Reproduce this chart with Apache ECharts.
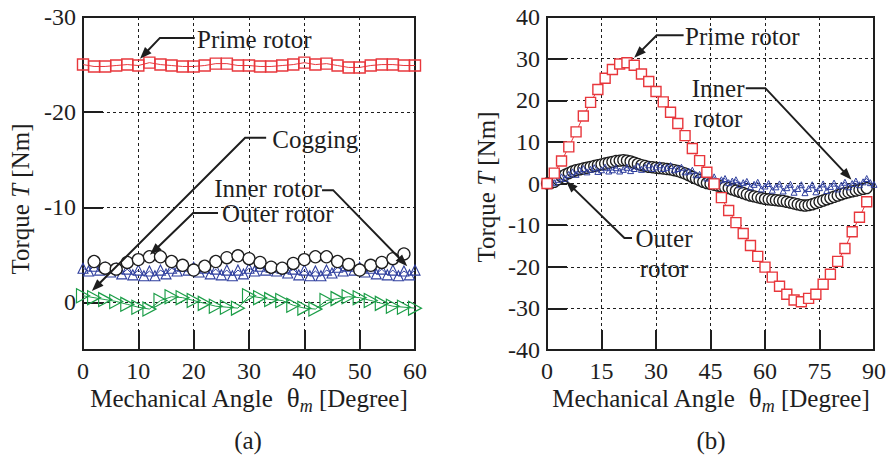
<!DOCTYPE html>
<html>
<head>
<meta charset="utf-8">
<script src="https://cdn.jsdelivr.net/npm/echarts@6/dist/echarts.min.js"></script>
<style>
  html, body { margin: 0; padding: 0; background: #fff; }
  #chart { width: 889px; height: 456px; }
</style>
</head>
<body>
<div id="chart"></div>
<script>
// Sample angles (degrees)
function range(start, stop, step) {
  const out = [];
  for (let v = start; v <= stop + 1e-9; v += step) out.push(v);
  return out;
}

// ---------- (a) constant-speed operation, 0–60 deg ----------
const angleA = range(0, 60, 2);
const primeA = [-25.0, -24.8, -24.8, -24.9, -25.0, -24.9, -25.2, -25.0, -24.9, -24.8, -24.8,
                -24.9, -25.1, -25.1, -24.9, -24.9, -24.8, -24.8, -24.9, -25.0, -25.2,
                -25.0, -25.1, -24.9, -24.7, -24.7, -24.9, -25.0, -25.0, -24.9, -24.9];
const coggingA = [-0.7, -0.5, -0.3, -0.1, 0.2, 0.5, 0.7, -0.2, -0.6, -0.5, -0.2,
                  0.1, 0.4, 0.5, 0.6, -0.7, -0.5, -0.3, -0.2, 0.3, 0.6,
                  0.7, -0.2, -0.4, -0.6, -0.5, -0.2, 0.1, 0.4, 0.5, 0.6];
const angleOuterA = range(2, 58, 2);
const outerA = [-4.3, -3.6, -3.5, -4.2, -4.5, -4.8, -4.8, -4.3, -3.9, -3.4,
                -3.8, -4.3, -4.7, -4.9, -4.6, -4.2, -3.7, -3.6, -4.1, -4.5,
                -4.8, -4.8, -4.3, -4.0, -3.4, -3.9, -4.2, -4.6, -5.1];
const angleInnerA = range(0, 60, 1);
const innerA = [-3.6, -3.3, -3.8, -3.4, -3.7, -3.2, -3.6, -3.0, -3.5, -2.9,
                -3.4, -2.8, -3.3, -2.8, -3.4, -3.0, -3.6, -3.3, -3.8, -3.4,
                -3.7, -3.2, -3.6, -3.0, -3.5, -2.9, -3.4, -2.8, -3.4, -3.0,
                -3.6, -3.3, -3.8, -3.4, -3.7, -3.3, -3.6, -3.1, -3.5, -2.9,
                -3.4, -2.8, -3.3, -2.8, -3.4, -3.1, -3.7, -3.3, -3.8, -3.4,
                -3.7, -3.2, -3.6, -3.0, -3.5, -2.9, -3.4, -2.8, -3.3, -2.9, -3.4];

// ---------- (b) one electrical period, 0–90 deg ----------
const angleB = range(0, 88, 2);
const primeB = [0.0, 2.5, 5.4, 8.8, 12.4, 16.2, 19.5, 22.6, 25.3, 27.4,
                28.7, 29.0, 28.4, 26.3, 24.5, 22.1, 19.6, 17.1, 14.4, 11.5,
                8.4, 5.5, 2.7, -0.1, -3.4, -6.5, -9.4, -12.0, -14.9, -17.5,
                -20.1, -22.5, -24.7, -26.6, -28.0, -28.4, -27.6, -26.6, -24.2, -21.8,
                -18.7, -15.6, -11.6, -8.1, -4.4];
const angleOuterB = range(0, 88, 1);
const outerB = [0.0, 0.1, 0.4, 1.0, 1.7, 2.1, 2.5, 2.9, 3.2, 3.4,
                3.6, 3.8, 4.0, 4.2, 4.4, 4.6, 4.8, 5.0, 5.2, 5.4,
                5.5, 5.6, 5.5, 5.3, 5.0, 4.7, 4.4, 4.2, 4.0, 3.9,
                3.8, 3.7, 3.6, 3.5, 3.4, 3.2, 3.0, 2.7, 2.4, 2.0,
                1.6, 1.2, 0.8, 0.4, 0.1, -0.1, -0.3, -0.5, -0.7, -0.9,
                -1.1, -1.4, -1.7, -2.0, -2.3, -2.6, -2.9, -3.1, -3.3, -3.5,
                -3.7, -3.8, -3.9, -4.0, -4.1, -4.2, -4.4, -4.6, -4.8, -5.0,
                -5.2, -5.3, -5.2, -5.0, -4.7, -4.4, -4.1, -3.8, -3.5, -3.2,
                -2.9, -2.6, -2.3, -2.1, -1.9, -1.7, -1.5, -1.3, -1.1];
const angleInnerB = range(0, 90, 1);
const innerB = [0.0, 0.4, 0.2, 1.0, 1.6, 1.2, 2.2, 2.8, 2.2, 3.2,
                3.6, 2.8, 3.4, 3.8, 2.9, 3.3, 3.9, 3.0, 3.3, 3.8,
                3.0, 3.4, 3.9, 3.1, 3.6, 4.2, 3.4, 3.9, 4.5, 3.6,
                4.0, 4.5, 3.6, 3.9, 4.3, 3.3, 3.6, 3.9, 2.8, 3.0,
                3.2, 2.1, 2.2, 2.3, 1.3, 1.4, 1.6, 0.6, 0.9, 1.2,
                0.2, 0.6, 0.9, -0.3, 0.2, 0.5, -0.8, -0.2, 0.3, -1.3,
                -0.6, 0.0, -1.6, -0.8, -0.1, -1.8, -1.0, -0.2, -2.1, -1.2,
                -0.3, -2.2, -1.2, -0.3, -2.0, -1.0, -0.1, -1.7, -0.7, 0.1,
                -1.3, -0.4, 0.3, -0.8, 0.0, 0.6, -0.3, 0.4, 1.2, 0.2, -0.2];

const ticksA = [-30, -20, -10, 0];
const ticksB = [40, 30, 20, 10, 0, -10, -20, -30, -40];

// ---------- styling ----------
const INK = '#1e1e1e';
const RED = '#e8373c';
const BLUE = '#2f3f9e';
const GREEN = '#1c9e48';
const SERIF = '"Liberation Serif", "Times New Roman", serif';

function pairs(xs, ys) { return xs.map((x, i) => [x, ys[i]]); }

function xAxisFor(gridIndex, max, interval) {
  return {
    type: 'value', gridIndex, min: 0, max, interval, position: 'bottom',
    axisLine: { show: true, onZero: false, lineStyle: { color: INK, width: 2 } },
    axisTick: { show: true, inside: true, length: 20, lineStyle: { color: INK, width: 2 } },
    axisLabel: { color: INK, fontFamily: SERIF, fontSize: 24, margin: 9 },
    splitLine: { show: true, lineStyle: { color: INK, width: 1, type: [3, 3] } }
  };
}
function yAxisFor(gridIndex, min, max, inverse, ticks) {
  return {
    type: 'value', gridIndex, min, max, interval: 10, inverse, position: 'left',
    axisLine: { show: true, onZero: false, lineStyle: { color: INK, width: 2 } },
    axisTick: { show: true, inside: true, length: 20, lineStyle: { color: INK, width: 2 } },
    axisLabel: {
      color: INK, fontFamily: SERIF, fontSize: 24, margin: 7,
      formatter: v => (ticks.indexOf(v) >= 0 ? String(v) : '')
    },
    splitLine: { show: true, lineStyle: { color: INK, width: 1, type: [3, 3] } }
  };
}

function markSeries(name, xi, data, symbol, size, stroke, opts) {
  return Object.assign({
    name, type: 'line', xAxisIndex: xi, yAxisIndex: xi, data,
    symbol, symbolSize: size, showSymbol: true, showAllSymbol: true,
    lineStyle: { color: stroke, width: 1 },
    itemStyle: { color: '#ffffff', borderColor: stroke, borderWidth: 1.3 },
    emphasis: { disabled: true }, silent: true
  }, opts || {});
}

const chart = echarts.init(document.getElementById('chart'), null, { renderer: 'svg' });

chart.setOption({
  animation: false,
  backgroundColor: '#ffffff',
  grid: [
    { left: 83, top: 17, width: 332, height: 333, show: true, borderColor: INK, borderWidth: 2 },
    { left: 547, top: 17, width: 331, height: 333, show: true, borderColor: INK, borderWidth: 2 }
  ],
  xAxis: [xAxisFor(0, 60, 10), xAxisFor(1, 90, 15)],
  yAxis: [yAxisFor(0, -30, 5, true, ticksA), yAxisFor(1, -40, 40, false, ticksB)],
  series: [
    // (a)
    markSeries('Inner rotor', 0, pairs(angleInnerA, innerA), 'triangle', 10, BLUE,
      { itemStyle: { color: 'rgba(0,0,0,0)', borderColor: BLUE, borderWidth: 1.1 }, lineStyle: { color: BLUE, width: 1 } }),
    markSeries('Outer rotor', 0, pairs(angleOuterA, outerA), 'circle', 12, INK, { lineStyle: { width: 0 } }),
    markSeries('Cogging', 0, pairs(angleA, coggingA), 'triangle', [14, 13], GREEN,
      { symbolRotate: -90, itemStyle: { color: 'rgba(0,0,0,0)', borderColor: GREEN, borderWidth: 1.2 } }),
    markSeries('Prime rotor', 0, pairs(angleA, primeA), 'rect', 11, RED,
      { itemStyle: { color: 'rgba(0,0,0,0)', borderColor: RED, borderWidth: 1.4 } }),
    // (b)
    markSeries('Outer rotor', 1, pairs(angleOuterB, outerB), 'circle', 11, INK, { lineStyle: { width: 0 } }),
    markSeries('Inner rotor', 1, pairs(angleInnerB, innerB), 'triangle', 6, BLUE,
      { itemStyle: { color: 'rgba(0,0,0,0)', borderColor: BLUE, borderWidth: 1 }, lineStyle: { color: BLUE, width: 1 } }),
    markSeries('Prime rotor', 1, pairs(angleB, primeB), 'rect', 10, RED,
      { itemStyle: { color: '#ffffff', borderColor: RED, borderWidth: 1.4 } })
  ]
});

// ---------- annotations (data coordinates) ----------
const notes = [
  { grid: 0, lines: ['Prime rotor'], at: [20.6, -27.6], align: 'left',
    arrow: [[20.2, -27.8], [13.9, -27.8], [10.3, -25.6]] },
  { grid: 0, lines: ['Cogging'], at: [34.2, -17.1], align: 'left',
    arrow: [[33.1, -17.3], [29.3, -17.3], [1.6, -1.2]] },
  { grid: 0, lines: ['Inner rotor'], at: [23.7, -12.0], align: 'left',
    arrow: [[43.2, -11.8], [45.2, -11.8], [58.6, -3.8]] },
  { grid: 0, lines: ['Outer rotor'], at: [25.1, -9.3], align: 'left',
    arrow: [[24.4, -9.4], [19.9, -9.4], [12.1, -5.0]] },
  { grid: 1, lines: ['Prime rotor'], at: [38.0, 35.2], align: 'left',
    arrow: [[37.6, 35.6], [30.2, 35.6], [24.0, 30.2]] },
  { grid: 1, lines: ['Inner', 'rotor'], at: [47.1, 22.9], align: 'center',
    arrow: [[54.7, 22.9], [60.1, 22.9], [83.8, 0.9]] },
  { grid: 1, lines: ['Outer', 'rotor'], at: [32.2, -13.3], align: 'center',
    arrow: [[23.4, -13.1], [21.3, -13.1], [5.2, 0.6]] }
];

const ctx = document.createElement('canvas').getContext('2d');
function textWidth(str, size, style) {
  ctx.font = (style || '') + ' ' + size + 'px "Liberation Serif"';
  return ctx.measureText(str).width;
}

function arrowGraphic(pts) {
  const n = pts.length;
  const tip = pts[n - 1], prev = pts[n - 2];
  let dx = tip[0] - prev[0], dy = tip[1] - prev[1];
  const len = Math.hypot(dx, dy); dx /= len; dy /= len;
  const L = 12, W = 4.5;
  const base = [tip[0] - dx * L, tip[1] - dy * L];
  const linePts = pts.slice(0, n - 1).concat([[tip[0] - dx * L * 0.7, tip[1] - dy * L * 0.7]]);
  return [
    { type: 'polyline', shape: { points: linePts }, style: { stroke: INK, lineWidth: 2, fill: null }, z: 50, silent: true },
    { type: 'polygon', shape: { points: [tip, [base[0] - dy * W, base[1] + dx * W], [base[0] + dy * W, base[1] - dx * W]] },
      style: { fill: INK }, z: 50, silent: true }
  ];
}

function build() {
  const g = [];
  notes.forEach(nt => {
    const p = chart.convertToPixel({ gridIndex: nt.grid }, nt.at);
    nt.lines.forEach((ln, k) => {
      g.push({ type: 'text', z: 50, silent: true, x: p[0], y: p[1] + k * 30,
        style: { text: ln, fontFamily: SERIF, fontSize: 25, fill: INK, align: nt.align, verticalAlign: 'middle' } });
    });
    const pts = nt.arrow.map(a => chart.convertToPixel({ gridIndex: nt.grid }, a));
    arrowGraphic(pts).forEach(e => g.push(e));
  });

  // Vertical axis titles
  [[20, 199], [486, 187]].forEach(c => {
    g.push({ type: 'text', z: 50, silent: true, x: c[0], y: c[1], rotation: Math.PI / 2,
      style: {
        text: '{a|Torque }{i|T}{a| [Nm]}', align: 'center', verticalAlign: 'middle',
        rich: {
          a: { fontFamily: SERIF, fontSize: 25, fill: INK },
          i: { fontFamily: SERIF, fontSize: 25, fontStyle: 'italic', fill: INK }
        }
      } });
  });

  // Horizontal axis titles with subscripted symbol
  const parts = [
    { t: 'Mechanical Angle  ', size: 25, style: '', dy: 0 },
    { t: '\u03B8', size: 27, style: '', dy: 0 },
    { t: 'm', size: 18, style: 'italic', dy: 8 },
    { t: ' [Degree]', size: 25, style: '', dy: 0 }
  ];
  const total = parts.reduce((s, q) => s + textWidth(q.t, q.size, q.style), 0);
  [[249, 398], [711, 398]].forEach(c => {
    let x = c[0] - total / 2;
    parts.forEach(q => {
      g.push({ type: 'text', z: 50, silent: true, x, y: c[1] + q.dy,
        style: { text: q.t, fontFamily: SERIF, fontSize: q.size, fontStyle: q.style || 'normal',
                 fill: INK, align: 'left', verticalAlign: 'middle' } });
      x += textWidth(q.t, q.size, q.style);
    });
  });

  // Panel captions
  [['(a)', 248], ['(b)', 711]].forEach(c => {
    g.push({ type: 'text', z: 50, silent: true, x: c[1], y: 440,
      style: { text: c[0], fontFamily: SERIF, fontSize: 25, fill: INK, align: 'center', verticalAlign: 'middle' } });
  });

  chart.setOption({ graphic: { elements: g } });
}
build();
</script>
</body>
</html>
